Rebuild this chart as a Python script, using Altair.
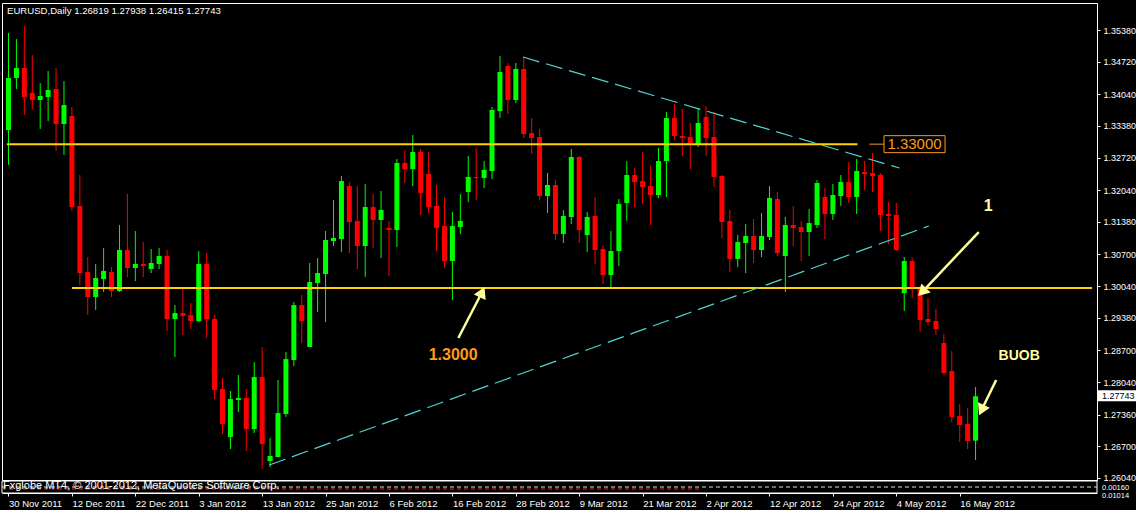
import altair as alt
import pandas as pd

# EURUSD daily candles, one per trading day from 30 Nov 2011 to 18 May 2012
opens = [1.33295, 1.34379, 1.34588, 1.34066, 1.33920, 1.33983, 1.34150, 1.33420, 1.33586, 1.31710,
         1.30334, 1.29813, 1.30188, 1.30334, 1.29938, 1.30793, 1.30418, 1.30501, 1.30397, 1.30501,
         1.30668, 1.29354, 1.29479, 1.29438, 1.29312, 1.30501, 1.29354, 1.27895, 1.26894, 1.27665,
         1.27707, 1.27061, 1.28145, 1.26393, 1.26477, 1.27373, 1.28499, 1.29646, 1.28771, 1.30105,
         1.30292, 1.30980, 1.31022, 1.32127, 1.31397, 1.30876, 1.31689, 1.31418, 1.31251, 1.31210,
         1.32607, 1.32482, 1.32836, 1.32378, 1.31710, 1.31293, 1.30563, 1.31272, 1.32002, 1.32315,
         1.32294, 1.32440, 1.33691, 1.34629, 1.33920, 1.34567, 1.33232, 1.33149, 1.31919, 1.32148,
         1.31126, 1.31481, 1.32732, 1.31106, 1.31502, 1.30814, 1.30272, 1.30772, 1.31773, 1.32357,
         1.32231, 1.32127, 1.31940, 1.32648, 1.33545, 1.33170, 1.33149, 1.32982, 1.33566, 1.33149,
         1.32336, 1.31397, 1.30605, 1.30939, 1.31085, 1.30793, 1.31064, 1.31856, 1.30668, 1.31314,
         1.31272, 1.31168, 1.31314, 1.31898, 1.31544, 1.31919, 1.32211, 1.31898, 1.32419, 1.32398,
         1.32357, 1.31544, 1.31523, 1.29896, 1.30563, 1.29980, 1.29354, 1.29312, 1.28853, 1.28270,
         1.27332, 1.27165, 1.26819]
highs = [1.35317, 1.35192, 1.35463, 1.34859, 1.34274, 1.34525, 1.34588, 1.34316, 1.33774, 1.32357,
         1.30647, 1.30501, 1.30834, 1.30439, 1.31314, 1.31961, 1.31189, 1.30959, 1.30814, 1.30834,
         1.30793, 1.29646, 1.29980, 1.29687, 1.30772, 1.30730, 1.29438, 1.28124, 1.27853, 1.28186,
         1.27895, 1.28457, 1.28771, 1.26873, 1.28082, 1.28666, 1.29708, 1.29855, 1.30522, 1.30626,
         1.31189, 1.31835, 1.32336, 1.32211, 1.32127, 1.32169, 1.31961, 1.32023, 1.31397, 1.32690,
         1.32878, 1.33191, 1.32899, 1.32836, 1.32148, 1.31898, 1.31585, 1.31961, 1.32753, 1.32919,
         1.32648, 1.33774, 1.34838, 1.34692, 1.34692, 1.34817, 1.33545, 1.33316, 1.32398, 1.32252,
         1.31627, 1.32899, 1.32753, 1.31585, 1.31898, 1.30897, 1.31189, 1.31856, 1.32648, 1.32503,
         1.32836, 1.32544, 1.32919, 1.33670, 1.33837, 1.33733, 1.33441, 1.33733, 1.33795, 1.33670,
         1.32357, 1.31627, 1.31106, 1.31335, 1.31439, 1.31564, 1.32127, 1.32002, 1.31481, 1.31710,
         1.31397, 1.31648, 1.32252, 1.32086, 1.32169, 1.32357, 1.32627, 1.32690, 1.32648, 1.32815,
         1.32398, 1.31794, 1.31773, 1.30647, 1.30647, 1.30042, 1.29792, 1.29563, 1.29042, 1.28687,
         1.27582, 1.27498, 1.27938]
lows = [1.32565, 1.34150, 1.33608, 1.33732, 1.33316, 1.33482, 1.32857, 1.32774, 1.31606, 1.30063,
        1.29438, 1.29542, 1.29917, 1.29813, 1.29917, 1.30230, 1.30146, 1.30230, 1.30313, 1.30397,
        1.29104, 1.28562, 1.29021, 1.29146, 1.29292, 1.28958, 1.27686, 1.26957, 1.26644, 1.27415,
        1.26602, 1.26978, 1.26227, 1.26268, 1.26477, 1.27311, 1.28374, 1.28853, 1.28771, 1.29500,
        1.29292, 1.30876, 1.30751, 1.30730, 1.30397, 1.30230, 1.30834, 1.30626, 1.30251, 1.30855,
        1.32190, 1.32127, 1.31523, 1.31564, 1.30772, 1.30418, 1.29750, 1.31126, 1.31794, 1.31835,
        1.32086, 1.32273, 1.33545, 1.33628, 1.33858, 1.33128, 1.32794, 1.31835, 1.31564, 1.31001,
        1.30939, 1.31335, 1.30939, 1.30751, 1.30501, 1.30084, 1.30021, 1.30459, 1.31397, 1.31689,
        1.31752, 1.31314, 1.31877, 1.31898, 1.33086, 1.32753, 1.32482, 1.32940, 1.32753, 1.32107,
        1.31043, 1.30334, 1.30439, 1.30313, 1.30522, 1.30647, 1.31001, 1.30668, 1.29917, 1.30876,
        1.30563, 1.30668, 1.31251, 1.31022, 1.31418, 1.31710, 1.31773, 1.31544, 1.32044, 1.32002,
        1.31189, 1.30918, 1.30772, 1.29521, 1.29792, 1.29083, 1.29229, 1.29021, 1.28186, 1.27206,
        1.26790, 1.26644, 1.26415]
closes = [1.34379, 1.34588, 1.33983, 1.33920, 1.34003, 1.34129, 1.33420, 1.33816, 1.31689, 1.30313,
          1.29813, 1.30209, 1.30355, 1.29938, 1.30793, 1.30418, 1.30501, 1.30459, 1.30522, 1.30668,
          1.29354, 1.29479, 1.29417, 1.29312, 1.30501, 1.29354, 1.27874, 1.27165, 1.27686, 1.27707,
          1.27061, 1.28145, 1.26748, 1.26498, 1.27394, 1.28520, 1.29646, 1.29312, 1.30126, 1.30313,
          1.31001, 1.31043, 1.32231, 1.31376, 1.30876, 1.31689, 1.31418, 1.31627, 1.31210, 1.32607,
          1.32482, 1.32836, 1.31981, 1.31689, 1.31251, 1.30563, 1.31293, 1.31397, 1.32315, 1.32294,
          1.32461, 1.33712, 1.34504, 1.33920, 1.34567, 1.33211, 1.33128, 1.31919, 1.32148, 1.31126,
          1.31502, 1.32732, 1.31210, 1.31481, 1.30793, 1.30272, 1.30772, 1.31752, 1.32357, 1.32211,
          1.32107, 1.31940, 1.32648, 1.33545, 1.33170, 1.33128, 1.32982, 1.33441, 1.33128, 1.32315,
          1.31376, 1.30605, 1.30959, 1.31085, 1.30793, 1.31085, 1.31877, 1.30730, 1.31314, 1.31251,
          1.31168, 1.31356, 1.32190, 1.31544, 1.31940, 1.32211, 1.31898, 1.32440, 1.32378, 1.32336,
          1.31523, 1.31502, 1.30793, 1.30563, 1.29980, 1.29333, 1.29292, 1.29146, 1.28228, 1.27311,
          1.27144, 1.26811, 1.27743]

# Date labels, one every eight bars
date_labels = ["30 Nov 2011", "12 Dec 2011", "22 Dec 2011", "3 Jan 2012", "13 Jan 2012",
               "25 Jan 2012", "6 Feb 2012", "16 Feb 2012", "28 Feb 2012", "9 Mar 2012",
               "21 Mar 2012", "2 Apr 2012", "12 Apr 2012", "24 Apr 2012", "4 May 2012",
               "16 May 2012"]
date_label_bars = [8 * k for k in range(len(date_labels))]

price_ticks = [1.35380, 1.34720, 1.34040, 1.33380, 1.32720, 1.32040, 1.31380, 1.30700,
               1.30040, 1.29380, 1.28700, 1.28040, 1.27360, 1.26700, 1.26040]

# Horizontal levels: price, first bar, last bar
level_price = [1.33000, 1.30000]
level_from = [-0.2, 8.0]
level_to = [107.1, 136.7]

# Trend lines: bar index and price of both ends
trend_name = ["upper", "upper", "lower", "lower"]
trend_bar = [64.9, 112.4, 32.9, 116.1]
trend_price = [1.34817, 1.32503, 1.26311, 1.31293]

# Arrows: tail and head (bar index, price) and heading of the head in degrees
arrow_tail_bar = [56.75, 122.4, 124.6]
arrow_tail_price = [1.28958, 1.31168, 1.28082]
arrow_head_bar = [59.75, 115.25, 122.75]
arrow_head_price = [1.29917, 1.29917, 1.27457]
arrow_angle = [25, 224, 205]

W, H = 1095, 477
X_DOMAIN = [-0.1875, 136.6875]
Y_DOMAIN = [1.25998, 1.35943]

UP = "#00FF00"
DOWN = "#FF0000"
LEVEL = "#FFD200"
TREND = "#4ED6D6"
ARROW = "#FFFF9A"
FONT = "Liberation Sans"

candles = pd.DataFrame({
    "bar": list(range(len(opens))),
    "open": opens, "high": highs, "low": lows, "close": closes,
})

xscale = alt.Scale(domain=X_DOMAIN, nice=False, zero=False)
yscale = alt.Scale(domain=Y_DOMAIN, nice=False, zero=False)

label_array = "[" + ",".join("'%s'" % s for s in date_labels) + "]"
xaxis = alt.Axis(values=date_label_bars, labelExpr=label_array + "[round(datum.value / 8)]",
                 orient="bottom", offset=13, tickSize=3, labelAlign="left",
                 labelBaseline="top", labelPadding=2, title=None, grid=False)
yaxis = alt.Axis(values=price_ticks, format=".5f", orient="right", tickSize=3,
                 labelPadding=3, labelBaseline="middle", labelFontSize=9, title=None, grid=False)

candle_color = alt.condition("datum.close >= datum.open", alt.value(UP), alt.value(DOWN))

wicks = alt.Chart(candles).mark_rule(strokeWidth=1).encode(
    x=alt.X("bar:Q", scale=xscale, axis=xaxis),
    y=alt.Y("low:Q", scale=yscale, axis=yaxis),
    y2="high:Q",
    color=candle_color,
)

bodies = alt.Chart(candles).mark_bar(size=5, minBandSize=1).encode(
    x=alt.X("bar:Q", scale=xscale, axis=xaxis),
    y=alt.Y("open:Q", scale=yscale, axis=yaxis),
    y2="close:Q",
    color=candle_color,
)

levels = alt.Chart(pd.DataFrame({"price": level_price, "x0": level_from, "x1": level_to})).mark_rule(
    color=LEVEL, strokeWidth=2
).encode(
    x=alt.X("x0:Q", scale=xscale, axis=xaxis),
    x2="x1:Q",
    y=alt.Y("price:Q", scale=yscale, axis=yaxis),
)

trends = alt.Chart(pd.DataFrame({"line": trend_name, "bar": trend_bar, "price": trend_price})).mark_line(
    color=TREND, strokeWidth=1.2, strokeDash=[17, 7]
).encode(
    x=alt.X("bar:Q", scale=xscale, axis=xaxis),
    y=alt.Y("price:Q", scale=yscale, axis=yaxis),
    detail="line:N",
)

arrows_df = pd.DataFrame({
    "tb": arrow_tail_bar, "tp": arrow_tail_price,
    "hb": arrow_head_bar, "hp": arrow_head_price, "ang": arrow_angle,
})
arrow_shafts = alt.Chart(arrows_df).mark_rule(color=ARROW, strokeWidth=2.5).encode(
    x=alt.X("tb:Q", scale=xscale, axis=xaxis), x2="hb:Q",
    y=alt.Y("tp:Q", scale=yscale, axis=yaxis), y2="hp:Q",
)
arrow_heads = alt.Chart(arrows_df).mark_point(
    shape="triangle-up", filled=True, color=ARROW, opacity=1, size=170
).encode(
    x=alt.X("hb:Q", scale=xscale, axis=xaxis),
    y=alt.Y("hp:Q", scale=yscale, axis=yaxis),
    angle=alt.Angle("ang:Q", scale=None),
)

# Text notes placed in price/bar space
notes = alt.Chart(pd.DataFrame({
    "bar": [56.1, 123.6, 127.5],
    "price": [1.28603, 1.31710, 1.28583],
    "txt": ["1.3000", "1", "BUOB"],
    "col": ["#FF9A1A", ARROW, ARROW],
    "fs": [16, 16, 14],
})).mark_text(font=FONT, fontWeight="bold", align="center", baseline="middle").encode(
    x=alt.X("bar:Q", scale=xscale, axis=xaxis),
    y=alt.Y("price:Q", scale=yscale, axis=yaxis),
    text="txt:N",
    color=alt.Color("col:N", scale=None),
    size=alt.Size("fs:Q", scale=None),
)

# Price tag of the 1.33 level
tag_df = pd.DataFrame({"bar": [114.3], "price": [1.33000], "txt": ["1.33000"], "b0": [108.6], "b1": [110.5]})
tag_dash = alt.Chart(tag_df).mark_rule(color="#FF9A1A", strokeWidth=1).encode(
    x=alt.X("b0:Q", scale=xscale, axis=xaxis), x2="b1:Q",
    y=alt.Y("price:Q", scale=yscale, axis=yaxis),
)
tag_box = alt.Chart(tag_df).mark_rect(
    fill="black", stroke="#FF9A1A", strokeWidth=1, width=61, height=17
).encode(
    x=alt.X("bar:Q", scale=xscale, axis=xaxis),
    y=alt.Y("price:Q", scale=yscale, axis=yaxis),
)
tag_text = alt.Chart(tag_df).mark_text(
    font=FONT, fontSize=15, color="#FF9A1A", align="center", baseline="middle"
).encode(
    x=alt.X("bar:Q", scale=xscale, axis=xaxis),
    y=alt.Y("price:Q", scale=yscale, axis=yaxis),
    text="txt:N",
)

# Last close marker on the price scale
last_df = pd.DataFrame({"price": [closes[-1]], "txt": ["%.5f" % closes[-1]]})
last_box = alt.Chart(last_df).mark_rect(fill="white", yOffset=-6, y2Offset=5).encode(
    x=alt.value(W + 1), x2=alt.value(W + 41),
    y=alt.Y("price:Q", scale=yscale, axis=yaxis), y2="price:Q",
)
last_text = alt.Chart(last_df).mark_text(
    font=FONT, fontSize=9, color="black", align="left", baseline="middle"
).encode(
    x=alt.value(W + 5),
    y=alt.Y("price:Q", scale=yscale, axis=yaxis),
    text="txt:N",
)

one = pd.DataFrame({"k": [0]})
title = alt.Chart(one).mark_text(
    text="EURUSD,Daily  1.26819 1.27938 1.26415 1.27743",
    font=FONT, fontSize=9.6, color="white", align="left", baseline="middle",
).encode(x=alt.value(5), y=alt.value(8))

# Indicator sub-window under the price panel
sub_frame = alt.Chart(one).mark_rect(filled=False, stroke="white", strokeWidth=1).encode(
    x=alt.value(0), x2=alt.value(W), y=alt.value(478), y2=alt.value(490)
)
sub_white = alt.Chart(one).mark_rule(color="#DDDDDD", strokeWidth=1, strokeDash=[4, 3]).encode(
    x=alt.value(0), x2=alt.value(W), y=alt.value(484)
)
sub_red = alt.Chart(one).mark_rule(color="#FF2020", strokeWidth=1, strokeDash=[4, 3]).encode(
    x=alt.value(0), x2=alt.value(700), y=alt.value(486)
)
sub_labels = alt.Chart(pd.DataFrame({"t": ["0.00160", "0.01014"], "yy": [485, 493]})).mark_text(
    font=FONT, fontSize=7.5, color="white", align="left", baseline="middle"
).encode(x=alt.value(W + 5), y=alt.Y("yy:Q", scale=None), text="t:N")
copyright = alt.Chart(one).mark_text(
    text="Fxglobe MT4, © 2001-2012, MetaQuotes Software Corp.",
    font=FONT, fontSize=11, color="white", align="left", baseline="middle",
).encode(x=alt.value(1), y=alt.value(483))

chart = alt.layer(
    wicks, bodies, levels, trends, arrow_shafts, arrow_heads, notes,
    tag_dash, tag_box, tag_text, last_box, last_text, title,
    sub_frame, sub_white, sub_red, sub_labels, copyright,
).properties(
    width=W, height=H,
    autosize=alt.AutoSizeParams(type="none"),
    padding={"left": 2, "top": 3, "right": 39, "bottom": 30},
    background="black",
).configure_view(
    stroke="white", strokeWidth=1,
).configure_axis(
    domainColor="white", tickColor="white", labelColor="white",
    labelFont=FONT, labelFontSize=9.5, grid=False,
)

chart.save("out.html", embed_options={"renderer": "svg", "actions": False})
